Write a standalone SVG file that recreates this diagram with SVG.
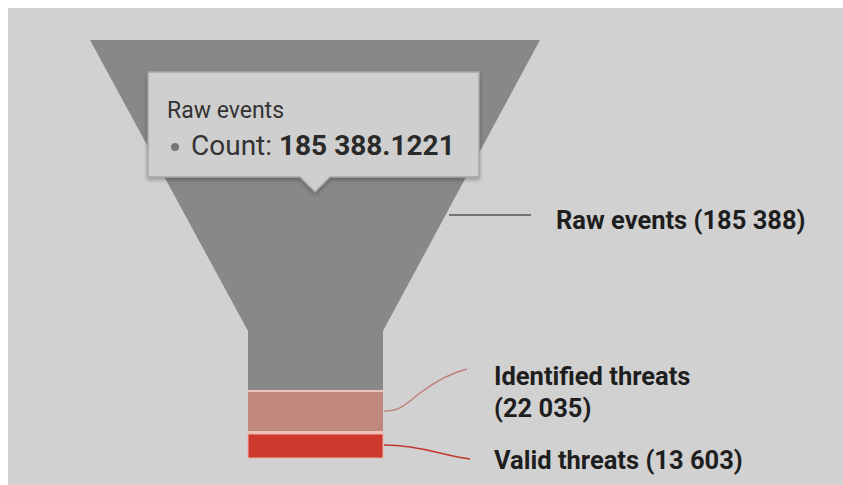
<svg xmlns="http://www.w3.org/2000/svg" width="843" height="485" viewBox="0 0 843 485">
<defs>
<style>
.lbl{font-family:Roboto,"Liberation Sans",sans-serif;font-weight:bold;font-size:25.5px;fill:#1e1e1e}
.tt{font-family:Roboto,"Liberation Sans",sans-serif;fill:#333}
</style>
<filter id="sh" x="-10%" y="-10%" width="120%" height="130%">
<feDropShadow dx="0" dy="2" stdDeviation="2" flood-color="#000" flood-opacity="0.3"/>
</filter>
</defs>
<rect x="0" y="0" width="843" height="485" fill="#ffffff"/>
<rect x="8" y="8" width="835" height="477" fill="#d1d1d1"/>
<g id="raw-events">
<path d="M90,40 L540,40 L383,331 L383,390 L248,390 L248,331 Z" fill="#888888"/>
</g>
<g id="identified-threats">
<rect x="248" y="390" width="135" height="2" fill="#ecc3bb"/>
<rect x="248" y="392" width="135" height="39" fill="#c0887c"/>
<rect x="248" y="431" width="135" height="3" fill="#ecc3bb"/>
</g>
<g id="valid-threats">
<rect x="248" y="434" width="135" height="24" fill="#cc3a2e" stroke="#f0b0a8" stroke-width="1"/>
</g>
<g id="connectors" fill="none">
<line x1="449" y1="215" x2="531" y2="215" stroke="#555" stroke-width="1.5"/>
<path d="M384,411 C400,411 405,405 420,393 C440,378 455,372 467,369" stroke="#c0807a" stroke-width="1.5"/>
<path d="M384,445 C405,445 420,448 440,453 C452,456 462,458 470,459" stroke="#c0392b" stroke-width="1.5"/>
</g>
<g id="tooltip">
<path d="M148,72 L479,72 L479,177 L330,177 L315,192 L300,177 L148,177 Z" fill="#cfcfcf" stroke="#a6a6a6" stroke-width="1.5" filter="url(#sh)"/>
<text class="tt" x="167" y="118" font-size="23" fill="#444">Raw events</text>
<circle cx="175" cy="147" r="4" fill="#777"/>
<text class="tt" x="191" y="155" font-size="28"><tspan>Count: </tspan><tspan font-weight="bold" fill="#2a2a2a">185 388.1221</tspan></text>
</g>
<g id="labels">
<text class="lbl" x="556" y="229">Raw events (185 388)</text>
<text class="lbl" x="494" y="385">Identified threats</text>
<text class="lbl" x="494" y="417">(22 035)</text>
<text class="lbl" x="494" y="469">Valid threats (13 603)</text>
</g>
</svg>
